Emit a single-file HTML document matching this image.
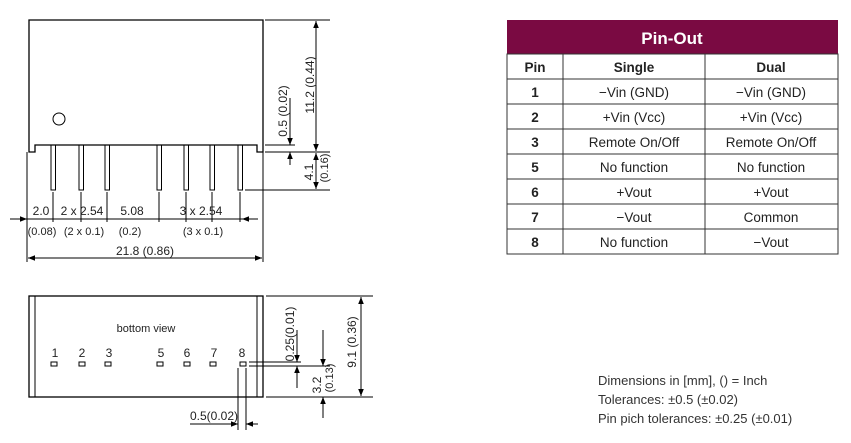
<!DOCTYPE html>
<html><head><meta charset="utf-8"><style>
html,body{margin:0;padding:0;background:#fff;}
svg{display:block;font-family:"Liberation Sans",sans-serif;}
</style></head><body>
<svg width="851" height="443" viewBox="0 0 851 443" xmlns="http://www.w3.org/2000/svg">
<defs>
<marker id="a" viewBox="0 0 10 10" refX="10" refY="5" markerWidth="9" markerHeight="7" orient="auto-start-reverse" markerUnits="userSpaceOnUse"><path d="M0,1 L10,5 L0,9 z" fill="#000"/></marker>
</defs>
<g stroke="#000" stroke-width="1" fill="none">
<path d="M29,152 L29,20 L263,20 L263,152 L257,152 L257,145 L35,145 L35,152 Z" stroke-width="1.3"/>
<circle cx="59" cy="119" r="6"/>
<rect x="51" y="145" width="4.5" height="45"/>
<rect x="79" y="145" width="4.5" height="45"/>
<rect x="105" y="145" width="4.5" height="45"/>
<rect x="157" y="145" width="4.5" height="45"/>
<rect x="184" y="145" width="4.5" height="45"/>
<rect x="210" y="145" width="4.5" height="45"/>
<rect x="238" y="145" width="4.5" height="45"/>
<line x1="265" y1="20" x2="330" y2="20"/>
<line x1="265" y1="145" x2="295" y2="145"/>
<line x1="265" y1="152" x2="330" y2="152"/>
<line x1="245" y1="190" x2="330" y2="190"/>
<line x1="316" y1="21" x2="316" y2="151" marker-start="url(#a)" marker-end="url(#a)"/>
<line x1="290" y1="98" x2="290" y2="145" marker-end="url(#a)"/>
<line x1="290" y1="165" x2="290" y2="152" marker-end="url(#a)"/>
<line x1="316" y1="153" x2="316" y2="189" marker-start="url(#a)" marker-end="url(#a)"/>
<line x1="27" y1="152" x2="27" y2="262"/>
<line x1="263" y1="152" x2="263" y2="262"/>
<line x1="10" y1="219" x2="27" y2="219" marker-end="url(#a)"/>
<line x1="258" y1="219" x2="242" y2="219" marker-end="url(#a)"/>
<line x1="27" y1="219" x2="258" y2="219"/>
<line x1="53" y1="192" x2="53" y2="222"/>
<line x1="81" y1="192" x2="81" y2="222"/>
<line x1="107" y1="192" x2="107" y2="222"/>
<line x1="159" y1="192" x2="159" y2="222"/>
<line x1="186" y1="192" x2="186" y2="222"/>
<line x1="212" y1="192" x2="212" y2="222"/>
<line x1="240" y1="192" x2="240" y2="222"/>
<line x1="28" y1="258" x2="262" y2="258" marker-start="url(#a)" marker-end="url(#a)"/>
<rect x="29" y="296" width="234" height="101" stroke-width="1.3"/>
<line x1="35" y1="296" x2="35" y2="397"/>
<line x1="257" y1="296" x2="257" y2="397"/>
<rect x="51" y="362" width="6" height="4"/>
<rect x="79" y="362" width="6" height="4"/>
<rect x="105" y="362" width="6" height="4"/>
<rect x="157" y="362" width="6" height="4"/>
<rect x="184" y="362" width="6" height="4"/>
<rect x="210" y="362" width="6" height="4"/>
<rect x="240" y="362" width="6" height="4"/>
<line x1="266" y1="296" x2="373" y2="296"/>
<line x1="266" y1="397" x2="373" y2="397"/>
<line x1="361" y1="297" x2="361" y2="396" marker-start="url(#a)" marker-end="url(#a)"/>
<line x1="249" y1="362" x2="301" y2="362"/>
<line x1="249" y1="366" x2="330" y2="366"/>
<line x1="297" y1="330" x2="297" y2="362" marker-end="url(#a)"/>
<line x1="297" y1="388" x2="297" y2="366" marker-end="url(#a)"/>
<line x1="323" y1="330" x2="323" y2="366" marker-end="url(#a)"/>
<line x1="323" y1="418" x2="323" y2="397" marker-end="url(#a)"/>
<line x1="238" y1="368" x2="238" y2="430"/>
<line x1="246" y1="368" x2="246" y2="430"/>
<line x1="190" y1="424" x2="238" y2="424" marker-end="url(#a)"/>
<line x1="258" y1="424" x2="246" y2="424" marker-end="url(#a)"/>
</g>
<g font-size="12" fill="#222">
<text x="41" y="215" text-anchor="middle">2.0</text>
<text x="82" y="215" text-anchor="middle">2 x 2.54</text>
<text x="132" y="215" text-anchor="middle">5.08</text>
<text x="201" y="215" text-anchor="middle">3 x 2.54</text>
<text x="42" y="235" text-anchor="middle" font-size="11">(0.08)</text>
<text x="84" y="235" text-anchor="middle" font-size="11">(2 x 0.1)</text>
<text x="130" y="235" text-anchor="middle" font-size="11">(0.2)</text>
<text x="203" y="235" text-anchor="middle" font-size="11">(3 x 0.1)</text>
<text x="145" y="255" text-anchor="middle">21.8  (0.86)</text>
<text transform="translate(314,85) rotate(-90)" text-anchor="middle">11.2 (0.44)</text>
<text transform="translate(287,111) rotate(-90)" text-anchor="middle">0.5 (0.02)</text>
<text transform="translate(313,172) rotate(-90)" text-anchor="middle">4.1</text>
<text transform="translate(328,168) rotate(-90)" text-anchor="middle" font-size="11">(0.16)</text>
<text x="146" y="332" text-anchor="middle" font-size="11">bottom view</text>
<text x="55" y="357" text-anchor="middle">1</text>
<text x="82" y="357" text-anchor="middle">2</text>
<text x="109" y="357" text-anchor="middle">3</text>
<text x="161" y="357" text-anchor="middle">5</text>
<text x="187" y="357" text-anchor="middle">6</text>
<text x="214" y="357" text-anchor="middle">7</text>
<text x="242" y="357" text-anchor="middle">8</text>
<text transform="translate(294,334) rotate(-90)" text-anchor="middle">0.25(0.01)</text>
<text transform="translate(321,385) rotate(-90)" text-anchor="middle">3.2</text>
<text transform="translate(333,378) rotate(-90)" text-anchor="middle" font-size="11">(0.13)</text>
<text transform="translate(356,342) rotate(-90)" text-anchor="middle">9.1  (0.36)</text>
<text x="190" y="420">0.5(0.02)</text>
</g>
<rect x="507" y="20" width="331" height="34" fill="#7a0a42"/>
<text x="672" y="44" text-anchor="middle" fill="#fff" font-size="17" font-weight="bold">Pin-Out</text>
<g stroke="#333" stroke-width="1" fill="none">
<rect x="507" y="54" width="331" height="200"/>
<line x1="563" y1="54" x2="563" y2="254"/>
<line x1="705" y1="54" x2="705" y2="254"/>
<line x1="507" y1="79" x2="838" y2="79"/>
<line x1="507" y1="104" x2="838" y2="104"/>
<line x1="507" y1="129" x2="838" y2="129"/>
<line x1="507" y1="154" x2="838" y2="154"/>
<line x1="507" y1="179" x2="838" y2="179"/>
<line x1="507" y1="204" x2="838" y2="204"/>
<line x1="507" y1="229" x2="838" y2="229"/>
</g>
<g font-size="13.5" fill="#222" text-anchor="middle">
<text x="535" y="72" font-weight="bold">Pin</text><text x="634" y="72" font-weight="bold">Single</text><text x="771" y="72" font-weight="bold">Dual</text>
<text x="535" y="97" font-weight="bold">1</text><text x="634" y="97">−Vin (GND)</text><text x="771" y="97">−Vin (GND)</text>
<text x="535" y="122" font-weight="bold">2</text><text x="634" y="122">+Vin (Vcc)</text><text x="771" y="122">+Vin (Vcc)</text>
<text x="535" y="147" font-weight="bold">3</text><text x="634" y="147">Remote  On/Off</text><text x="771" y="147">Remote  On/Off</text>
<text x="535" y="172" font-weight="bold">5</text><text x="634" y="172">No function</text><text x="771" y="172">No function</text>
<text x="535" y="197" font-weight="bold">6</text><text x="634" y="197">+Vout</text><text x="771" y="197">+Vout</text>
<text x="535" y="222" font-weight="bold">7</text><text x="634" y="222">−Vout</text><text x="771" y="222">Common</text>
<text x="535" y="247" font-weight="bold">8</text><text x="634" y="247">No function</text><text x="771" y="247">−Vout</text>
</g>
<g font-size="13" fill="#333">
<text x="598" y="385">Dimensions in [mm], () = Inch</text>
<text x="598" y="404">Tolerances: ±0.5 (±0.02)</text>
<text x="598" y="423">Pin pich tolerances: ±0.25 (±0.01)</text>
</g>
</svg>
</body></html>
